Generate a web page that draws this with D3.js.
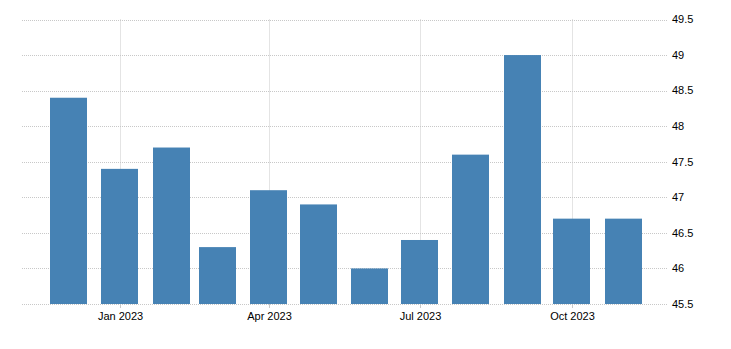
<!doctype html>
<html>
<head>
<meta charset="UTF-8">
<title>Monthly index</title>
<script src="https://d3js.org/d3.v7.min.js"></script>
<style>
  body { margin: 0; background: #fff; }
  text { font-family: "Liberation Sans", Arial, sans-serif; font-size: 11px; fill: #000; }
</style>
</head>
<body>
<svg id="chart" width="731" height="349"></svg>
<script>
// monthly values, Dec 2022 .. Nov 2023
var months = ["2022-12", "2023-01", "2023-02", "2023-03", "2023-04", "2023-05",
              "2023-06", "2023-07", "2023-08", "2023-09", "2023-10", "2023-11"];
var values = [48.4, 47.4, 47.7, 46.3, 47.1, 46.9, 46.0, 46.4, 47.6, 49.0, 46.7, 46.7];
var yTicks = [45.5, 46, 46.5, 47, 47.5, 48, 48.5, 49, 49.5];
var xTicks = ["2023-01", "2023-04", "2023-07", "2023-10"];

var parse = d3.timeParse("%Y-%m");
var svg = d3.select("#chart");

var plotLeft = 22, plotRight = 668, plotTop = 19.5, plotBottom = 304;

// time scale anchored on the quarter ticks
var x = d3.scaleTime()
    .domain([parse("2023-01"), parse("2023-10")])
    .range([120.3, 572.3]);
var y = d3.scaleLinear().domain([45.5, 49.5]).range([plotBottom, plotTop]);

var barW = 37;
var data = months.map(function(m, i) { return { date: parse(m), value: values[i] }; });

// horizontal grid
svg.append("g").selectAll("line").data(yTicks).enter().append("line")
    .attr("x1", plotLeft).attr("x2", plotRight)
    .attr("y1", function(d) { return Math.round(y(d)) + 0.5; })
    .attr("y2", function(d) { return Math.round(y(d)) + 0.5; })
    .attr("stroke", "#c8c8c8").attr("stroke-dasharray", "1,1");

// vertical grid
svg.append("g").selectAll("line").data(xTicks).enter().append("line")
    .attr("x1", function(d) { return Math.round(x(parse(d))) + 0.5; })
    .attr("x2", function(d) { return Math.round(x(parse(d))) + 0.5; })
    .attr("y1", plotTop).attr("y2", plotBottom)
    .attr("stroke", "#c8c8c8").attr("stroke-dasharray", "1,1");

// bars
svg.append("g").selectAll("rect").data(data).enter().append("rect")
    .attr("x", function(d) { return Math.round(x(d.date) - barW / 2 - 0.5); })
    .attr("width", barW)
    .attr("y", function(d) { return y(d.value); })
    .attr("height", function(d) { return plotBottom - y(d.value); })
    .attr("fill", "#4682b4");

// x ticks + labels
var fmt = d3.timeFormat("%b %Y");
var xg = svg.append("g").selectAll("g").data(xTicks).enter().append("g")
    .attr("transform", function(d) { return "translate(" + (Math.round(x(parse(d))) + 0.5) + ",0)"; });
xg.append("line").attr("y1", plotBottom).attr("y2", plotBottom + 4).attr("stroke", "#c8c8c8");
xg.append("text").attr("y", 320).attr("text-anchor", "middle")
    .text(function(d) { return fmt(parse(d)); });

// y labels on the right
svg.append("g").selectAll("text").data(yTicks).enter().append("text")
    .attr("x", 672)
    .attr("y", function(d) { return y(d); })
    .attr("dy", "0.35em")
    .text(function(d) { return d; });
</script>
</body>
</html>
